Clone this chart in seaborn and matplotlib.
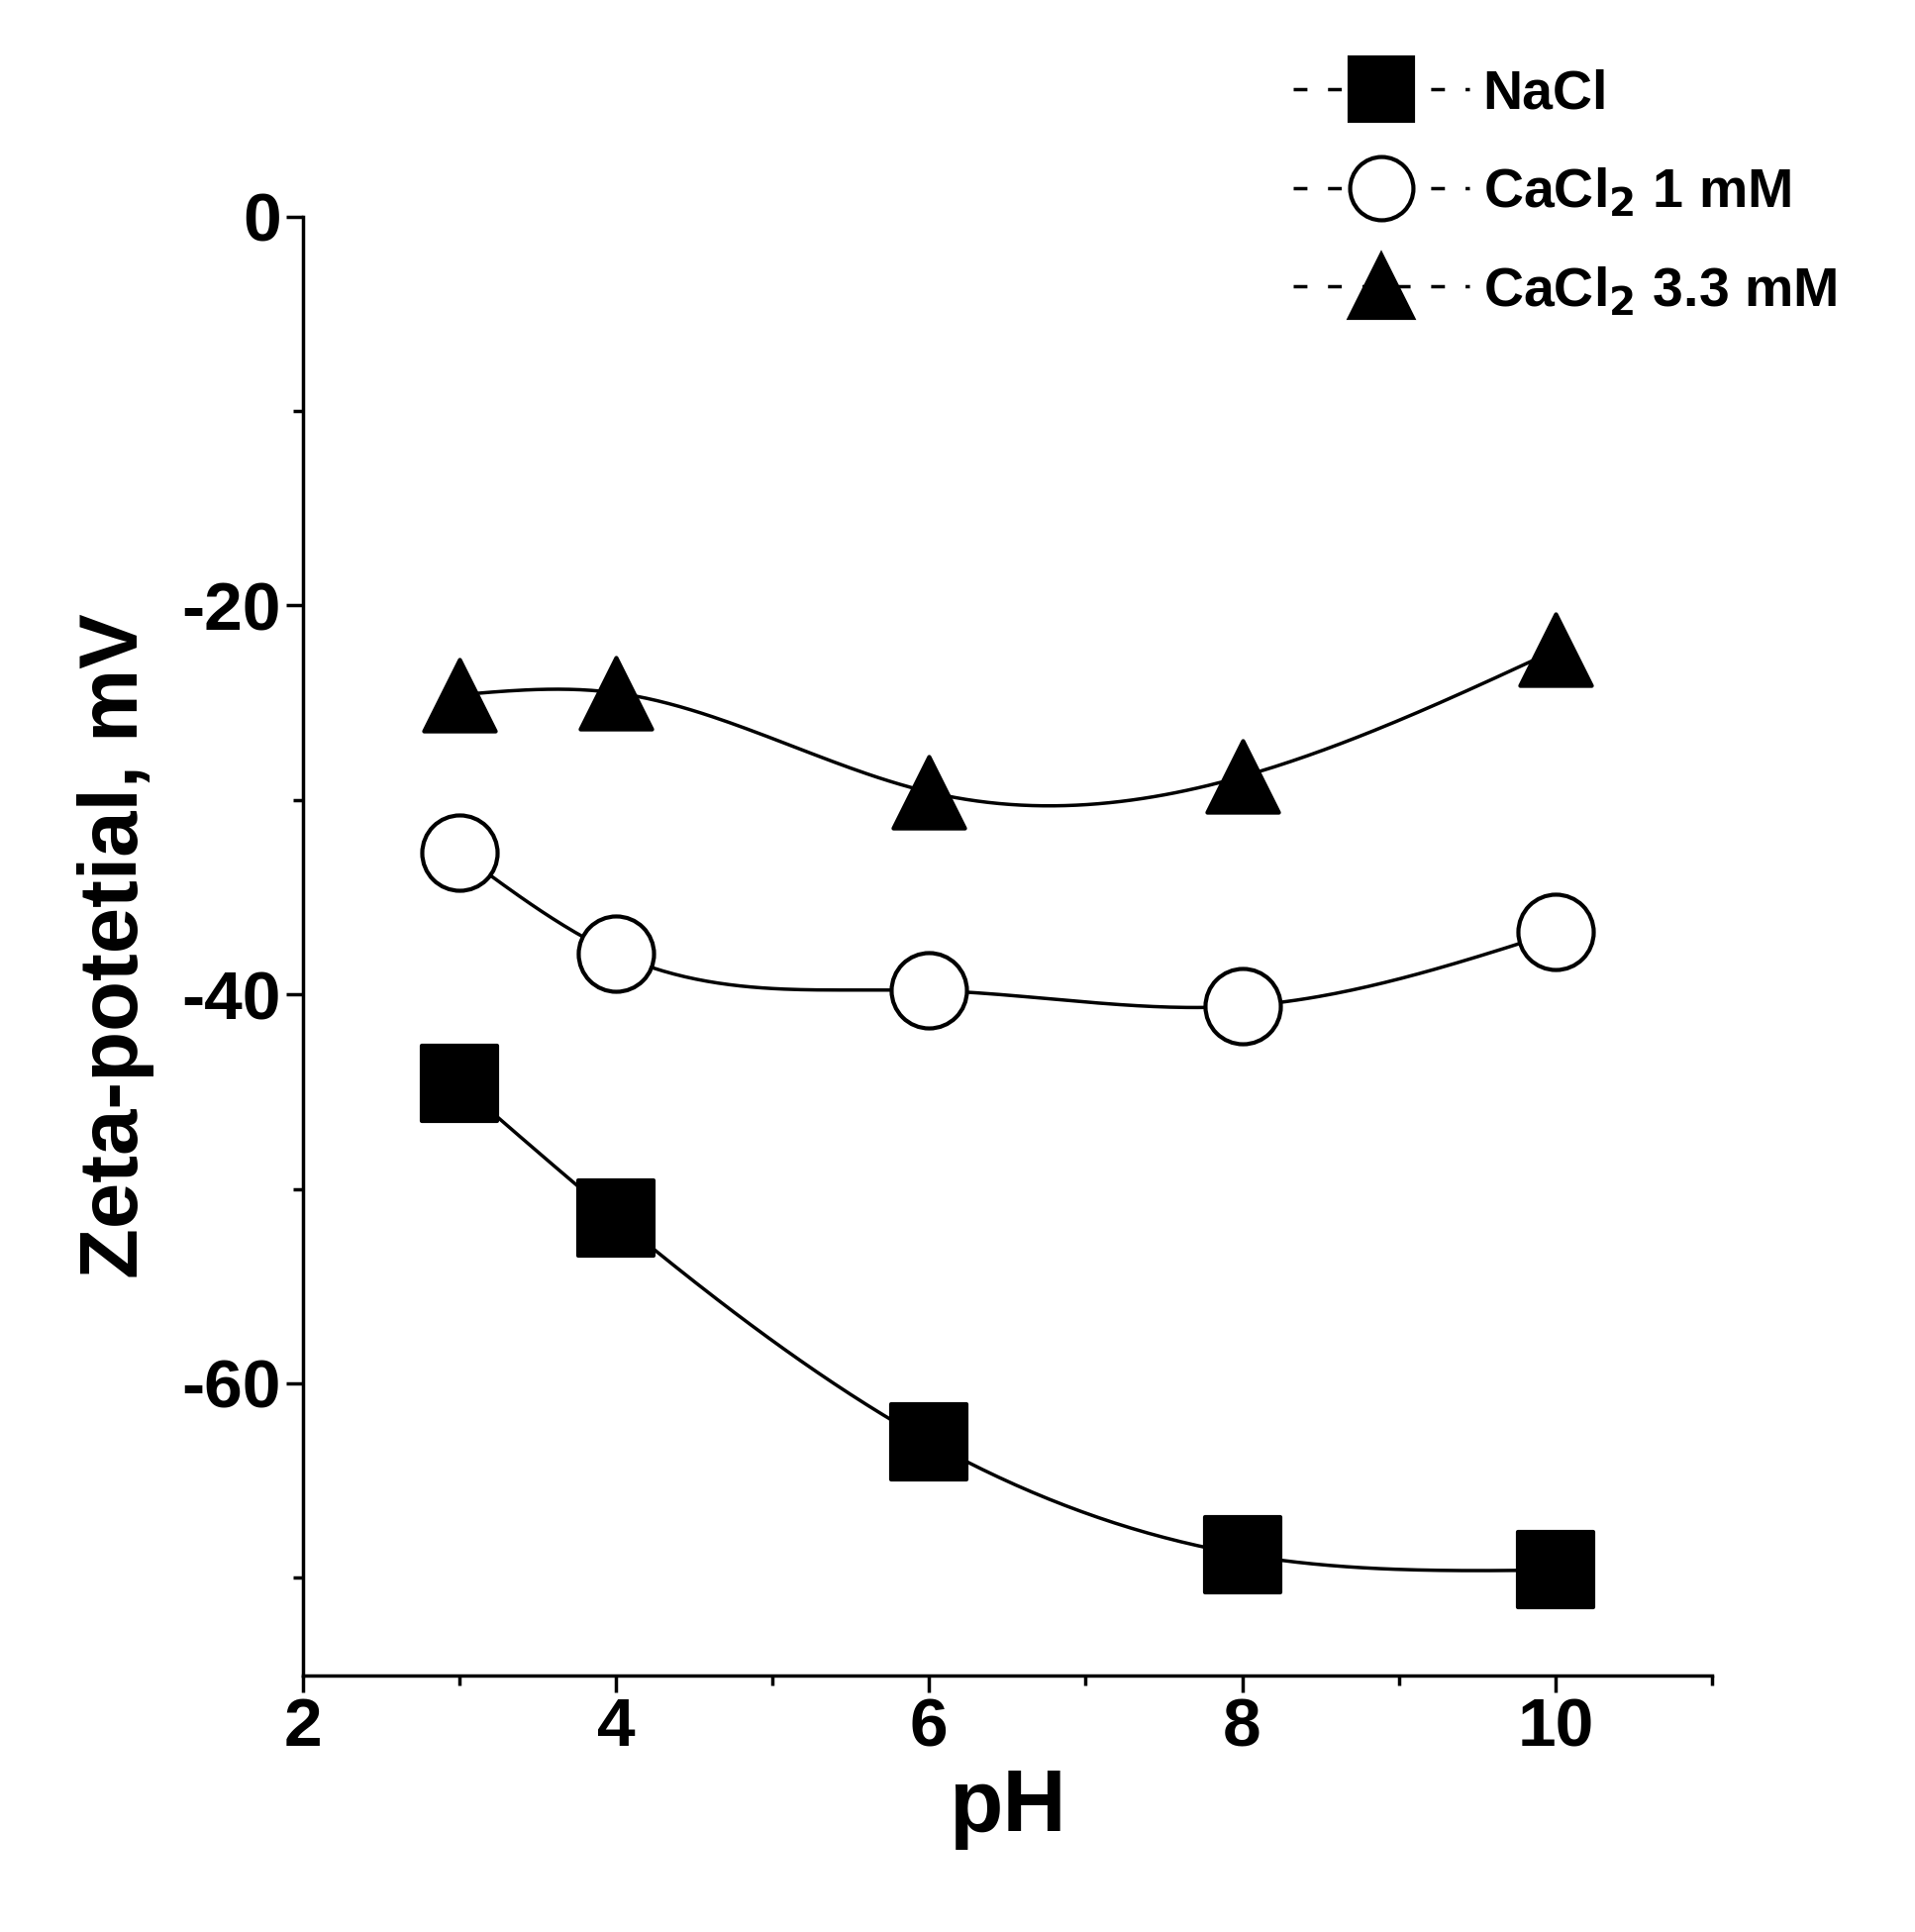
import numpy as np
import pandas as pd
import matplotlib
matplotlib.use("Agg")
import matplotlib.pyplot as plt
import seaborn as sns
from matplotlib.lines import Line2D
from matplotlib.ticker import MultipleLocator

ph = [3, 4, 6, 8, 10]
nacl = [-44.6, -51.5, -63.0, -68.8, -69.6]
cacl1 = [-32.7, -37.9, -39.8, -40.6, -36.8]
cacl33 = [-24.6, -24.5, -29.6, -28.8, -22.3]

sns.set_style("ticks")
plt.rcParams['font.family'] = ['Liberation Sans', 'DejaVu Sans']
plt.rcParams['font.weight'] = 'bold'
plt.rcParams['axes.unicode_minus'] = False
for k in ['text.color', 'axes.labelcolor', 'xtick.color', 'ytick.color', 'axes.edgecolor']:
    plt.rcParams[k] = 'black'

def spline(x, y, n=200):
    x = np.asarray(x, float); y = np.asarray(y, float)
    m = len(x); h = np.diff(x)
    A = np.zeros((m, m)); b = np.zeros(m)
    A[0, 0] = A[-1, -1] = 1
    for i in range(1, m - 1):
        A[i, i-1] = h[i-1]; A[i, i] = 2*(h[i-1]+h[i]); A[i, i+1] = h[i]
        b[i] = 3*((y[i+1]-y[i])/h[i] - (y[i]-y[i-1])/h[i-1])
    c = np.linalg.solve(A, b)
    xs = np.linspace(x[0], x[-1], n); ys = np.empty_like(xs)
    for k, xv in enumerate(xs):
        i = min(np.searchsorted(x, xv, side='right') - 1, m - 2)
        d = xv - x[i]
        bb = (y[i+1]-y[i])/h[i] - h[i]*(2*c[i]+c[i+1])/3
        dd = (c[i+1]-c[i])/(3*h[i])
        ys[k] = y[i] + bb*d + c[i]*d*d + dd*d**3
    return xs, ys

fig = plt.figure(figsize=(19.34, 19.51), dpi=100)
ax = fig.add_axes([0.158, 0.133, 0.736, 0.755])

series = [("NaCl", nacl, 's', 'black', 3000),
          ("CaCl$_2$ 1 mM", cacl1, 'o', 'white', 3000),
          ("CaCl$_2$ 3.3 mM", cacl33, '^', 'black', 2700)]
handles = []
for name, vals, mk, fc, sz in series:
    xs, ys = spline(ph, vals)
    sns.lineplot(x=xs, y=ys, ax=ax, color='black', lw=2.5, sort=False)
    sns.scatterplot(x=ph, y=vals, ax=ax, marker=mk, s=sz,
                    facecolor=fc, edgecolor='black', linewidth=3, zorder=5)
    handles.append(Line2D([0], [0], color='black', lw=2.5, marker=mk, markersize=46,
                          markerfacecolor=fc, markeredgecolor='black', markeredgewidth=3,
                          linestyle=(0, (4, 6)), label=name))

ax.set_xlim(2, 11)
ax.set_ylim(-75, 0)
ax.xaxis.set_minor_locator(MultipleLocator(1))
ax.yaxis.set_major_locator(MultipleLocator(20))
ax.yaxis.set_minor_locator(MultipleLocator(10))
ax.set_xticks([2, 4, 6, 8, 10])
ax.tick_params(which='major', length=12, width=2.5, labelsize=50, direction='out')
ax.tick_params(which='minor', length=7, width=2.5, direction='out')
for s in ['left', 'bottom']:
    ax.spines[s].set_linewidth(2.5)
sns.despine(ax=ax)
ax.set_xlabel("pH", fontsize=64, fontweight='bold', labelpad=5)
ax.set_ylabel("Zeta-potetial, mV", fontsize=60, fontweight='bold', labelpad=20)
for t in ax.get_xticklabels() + ax.get_yticklabels():
    t.set_fontweight('bold')

fig.legend(handles=handles, loc='upper right', bbox_to_anchor=(0.985, 0.99), frameon=False,
           handlelength=3.2, labelspacing=0.85, handletextpad=0.25,
           prop={'weight': 'bold', 'size': 40})

fig.savefig("out.png", dpi=100)
